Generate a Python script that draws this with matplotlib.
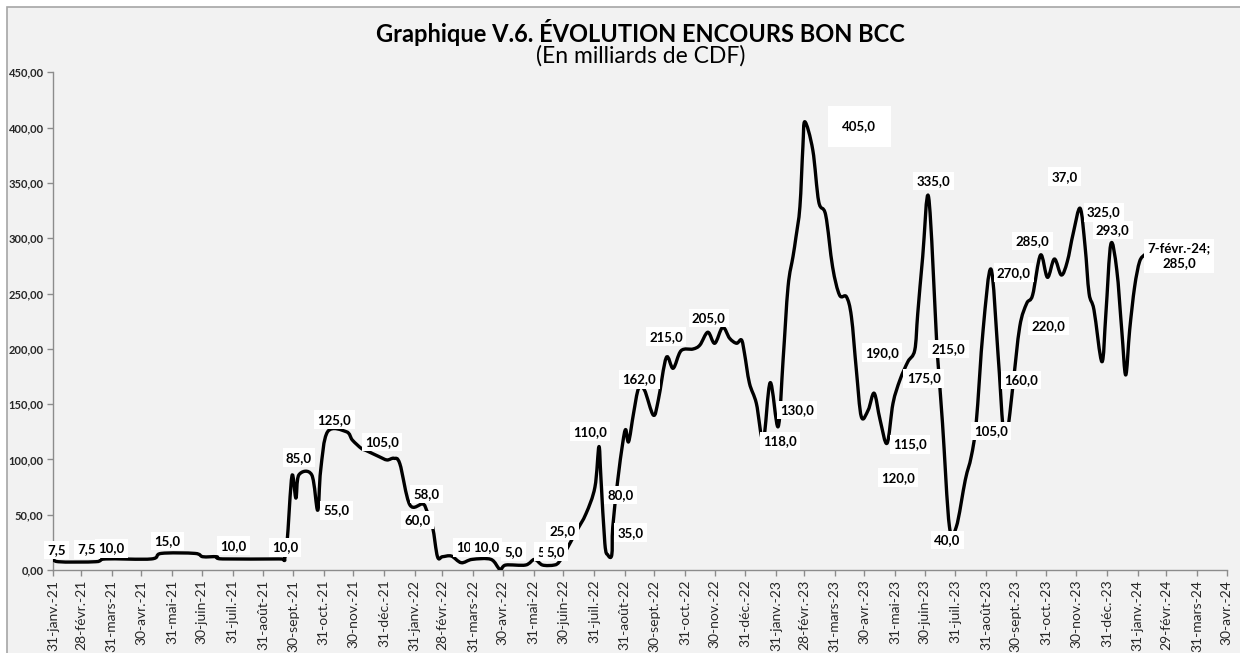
import matplotlib
matplotlib.use("Agg")
import matplotlib.pyplot as plt
import matplotlib.dates as mdates
import numpy as np
import pandas as pd
from matplotlib.patches import Rectangle, PathPatch
from matplotlib.path import Path

# encours bon BCC (milliards de CDF)
dates = [
    "2021-01-31", "2021-02-05", "2021-03-15", "2021-03-25", "2021-05-10", "2021-05-20",
    "2021-06-23", "2021-07-01", "2021-07-15", "2021-07-21", "2021-09-16", "2021-09-21",
    "2021-09-24",
    "2021-09-29", "2021-10-03", "2021-10-06", "2021-10-19", "2021-10-25", "2021-10-28",
    "2021-11-04", "2021-11-23", "2021-11-29", "2021-12-08", "2021-12-13", "2021-12-26",
    "2022-01-03", "2022-01-10", "2022-01-16", "2022-01-26", "2022-02-08", "2022-02-12",
    "2022-02-18", "2022-02-23", "2022-02-28", "2022-03-09", "2022-03-19", "2022-03-30",
    "2022-04-18", "2022-04-27", "2022-05-03", "2022-05-23", "2022-06-01", "2022-06-09",
    "2022-06-21", "2022-06-26", "2022-07-03", "2022-07-13", "2022-07-23", "2022-08-01",
    "2022-08-05", "2022-08-07", "2022-08-11", "2022-08-14", "2022-08-18", "2022-08-19",
    "2022-08-24", "2022-08-29", "2022-09-01", "2022-09-04", "2022-09-09", "2022-09-14",
    "2022-09-20", "2022-09-29", "2022-10-04", "2022-10-12", "2022-10-19", "2022-10-27",
    "2022-11-08", "2022-11-15", "2022-11-23", "2022-11-30", "2022-12-08", "2022-12-15",
    "2022-12-22", "2022-12-27", "2022-12-30", "2023-01-04", "2023-01-11", "2023-01-18",
    "2023-01-25", "2023-02-02", "2023-02-07", "2023-02-12", "2023-02-17", "2023-02-20",
    "2023-02-24", "2023-02-27", "2023-03-01", "2023-03-09", "2023-03-15", "2023-03-22",
    "2023-03-29", "2023-04-05", "2023-04-12", "2023-04-17", "2023-04-22", "2023-04-27",
    "2023-05-04", "2023-05-10", "2023-05-16", "2023-05-23", "2023-05-29", "2023-06-05",
    "2023-06-13", "2023-06-20", "2023-06-23", "2023-06-28", "2023-07-04", "2023-07-12",
    "2023-07-13", "2023-07-18", "2023-07-25", "2023-08-01", "2023-08-10", "2023-08-16",
    "2023-08-21", "2023-08-28", "2023-09-05", "2023-09-12", "2023-09-17", "2023-09-20",
    "2023-09-22", "2023-09-27", "2023-10-04", "2023-10-11", "2023-10-17", "2023-10-25",
    "2023-11-01", "2023-11-08", "2023-11-15", "2023-11-21", "2023-11-27", "2023-12-04",
    "2023-12-09", "2023-12-13", "2023-12-18", "2023-12-26", "2023-12-30", "2024-01-04",
    "2024-01-10", "2024-01-15", "2024-01-19", "2024-01-23", "2024-01-28", "2024-02-02",
    "2024-02-07",
]
values = [
    11, 7.5, 7.5, 10, 10, 15,
    15, 12, 12, 10, 10, 9.5,
    24,
    85, 65, 86, 86, 54, 90,
    125, 125, 117.5, 110, 108, 102.5,
    99.5, 101, 96, 59, 59.7, 54,
    39, 12, 12, 12.6, 6.6, 9.6,
    9.6, 0.6, 4.5, 4.5, 9.6, 4.5,
    4.5, 7.5, 18, 34.6, 51, 75,
    111.5, 84, 24, 13.6, 13.6, 39,
    81, 114.5, 127, 116, 141.7, 164,
    162.7, 140, 153.7, 192, 182.4, 198.3,
    199.8, 203.4, 215, 205, 219.4, 209.5,
    205, 208, 196, 169, 150.7, 117.5,
    169.4, 129.6, 190, 256, 283.3, 301,
    328.5, 382.7, 405.3, 379.7, 333, 321,
    274, 248.6, 247, 229, 180.8, 138.6,
    144.7, 159.8, 135.6, 114.6, 150.7, 171.8,
    188.3, 198.9, 232, 283.3, 337, 208,
    193, 132.6, 39.2, 39.2, 81.4, 102.5,
    132.6, 217, 272, 196, 129.6, 122,
    126.6, 165.8, 220, 241, 248.6, 284.8,
    264.6, 281.2, 266.7, 278.8, 304.4, 327,
    292.3, 250.2, 235, 188.3, 232, 294.7,
    271.2, 217, 176.3, 217, 256, 278.8,
    285,
]

# data labels as they appear on the chart
label_texts = [
    "7,5", "7,5", "10,0", "15,0", "10,0", "10,0", "85,0", "55,0", "125,0", "105,0",
    "58,0", "60,0", "10,0", "10,0", "5,0", "5,0", "5,0", "25,0", "110,0", "80,0",
    "35,0", "162,0", "215,0", "205,0", "118,0", "130,0", "405,0", "190,0", "115,0",
    "120,0", "175,0", "335,0", "215,0", "40,0", "105,0", "270,0", "160,0", "285,0",
    "220,0", "37,0", "325,0", "293,0", "7-févr.-24;\n285,0",
]
label_pos = [
    ("2021-02-03", 18), ("2021-03-06", 18.7), ("2021-03-31", 19.6), ("2021-05-26", 26.2),
    ("2021-08-01", 22), ("2021-09-22", 20.5), ("2021-10-06", 101.5), ("2021-11-13", 54),
    ("2021-11-11", 136), ("2021-12-29", 115.7), ("2022-02-12", 68.7), ("2022-02-03", 45.2),
    ("2022-03-27", 20.5), ("2022-04-13", 20.5), ("2022-05-11", 16.5), ("2022-06-13", 16.5),
    ("2022-06-22", 16.5), ("2022-06-29", 35.3), ("2022-07-27", 125), ("2022-08-27", 67.8),
    ("2022-09-06", 33.7), ("2022-09-15", 172.4), ("2022-10-12", 211), ("2022-11-24", 228),
    ("2023-02-04", 116.6), ("2023-02-21", 144.7), ("2023-04-25", 401.4), ("2023-05-18", 196.5),
    ("2023-06-15", 113.6), ("2023-06-03", 83.5), ("2023-06-29", 173.3), ("2023-07-09", 351.7),
    ("2023-07-24", 199.8), ("2023-07-23", 27.1), ("2023-09-05", 125.7), ("2023-09-28", 268.8),
    ("2023-10-05", 171.8), ("2023-10-17", 297.5), ("2023-11-02", 220.6), ("2023-11-18", 355.6),
    ("2023-12-28", 323.4), ("2024-01-06", 307.4), ("2024-03-13", 284),
]

mois = ["janv.", "févr.", "mars", "avr.", "mai", "juin",
        "juil.", "août", "sept.", "oct.", "nov.", "déc."]

plt.rcParams["font.family"] = ["Lato", "DejaVu Sans"]

fig = plt.figure(figsize=(12.4, 6.53), dpi=100)
fig.patches.append(Rectangle((7 / 1240, -0.01), 1.02, 1 - 7 / 653 + 0.01,
                             transform=fig.transFigure, facecolor="#f2f2f2",
                             edgecolor="#a6a6a6", linewidth=1.2, zorder=-5))

ax = fig.add_axes([53.3 / 1240, 83 / 653, 1173.4 / 1240, 497.7 / 653])
ax.set_facecolor("none")

# smoothed line like the Excel one (bezier through the points)
pts = np.column_stack([mdates.date2num(pd.to_datetime(dates)), values])
verts = [pts[0]]
codes = [Path.MOVETO]
for i in range(len(pts) - 1):
    p0 = pts[max(i - 1, 0)]
    p1, p2 = pts[i], pts[i + 1]
    p3 = pts[min(i + 2, len(pts) - 1)]
    verts += [p1 + (p2 - p0) / 6, p2 - (p3 - p1) / 6, p2]
    codes += [Path.CURVE4] * 3
ax.add_patch(PathPatch(Path(verts, codes), facecolor="none", edgecolor="black",
                       linewidth=2.4, joinstyle="round", capstyle="round", zorder=3))

for txt, (d, v) in zip(label_texts, label_pos):
    pad = 1.1 if txt == "405,0" else 0.25
    ax.text(pd.Timestamp(d), v, txt, ha="center", va="center", fontsize=9.5,
            fontweight="bold", color="black", linespacing=1.3, zorder=5,
            bbox=dict(boxstyle=f"square,pad={pad}", facecolor="white", edgecolor="none"))

ax.set_xlim(pd.Timestamp("2021-01-31"), pd.Timestamp("2024-04-30"))
ax.set_ylim(0, 450)

ticks = pd.date_range("2021-01-31", "2024-04-30", freq="ME")
ax.set_xticks(ticks)
ax.set_xticklabels([f"{t.day}-{mois[t.month - 1]}-{t.strftime('%y')}" for t in ticks],
                   rotation=90, fontsize=10, color="#262626")
ax.set_yticks(range(0, 451, 50))
ax.set_yticklabels([f"{v:.2f}".replace(".", ",") for v in range(0, 451, 50)],
                   fontsize=8, fontweight="bold", color="#262626")

for s in ["top", "right"]:
    ax.spines[s].set_visible(False)
for s in ["left", "bottom"]:
    ax.spines[s].set_color("#8c8c8c")
    ax.spines[s].set_linewidth(1.0)
ax.tick_params(axis="both", direction="out", length=4, color="#8c8c8c", width=1)
ax.tick_params(axis="x", pad=3)
ax.tick_params(axis="y", pad=3)

fig.text(640 / 1240, 1 - 32 / 653, "Graphique V.6. ÉVOLUTION ENCOURS BON BCC",
         ha="center", va="center", fontsize=17, fontweight="bold", color="black")
fig.text(641 / 1240, 1 - 56 / 653, "(En milliards de CDF)",
         ha="center", va="center", fontsize=16.5, color="black")

fig.savefig("out.png", dpi=100)
